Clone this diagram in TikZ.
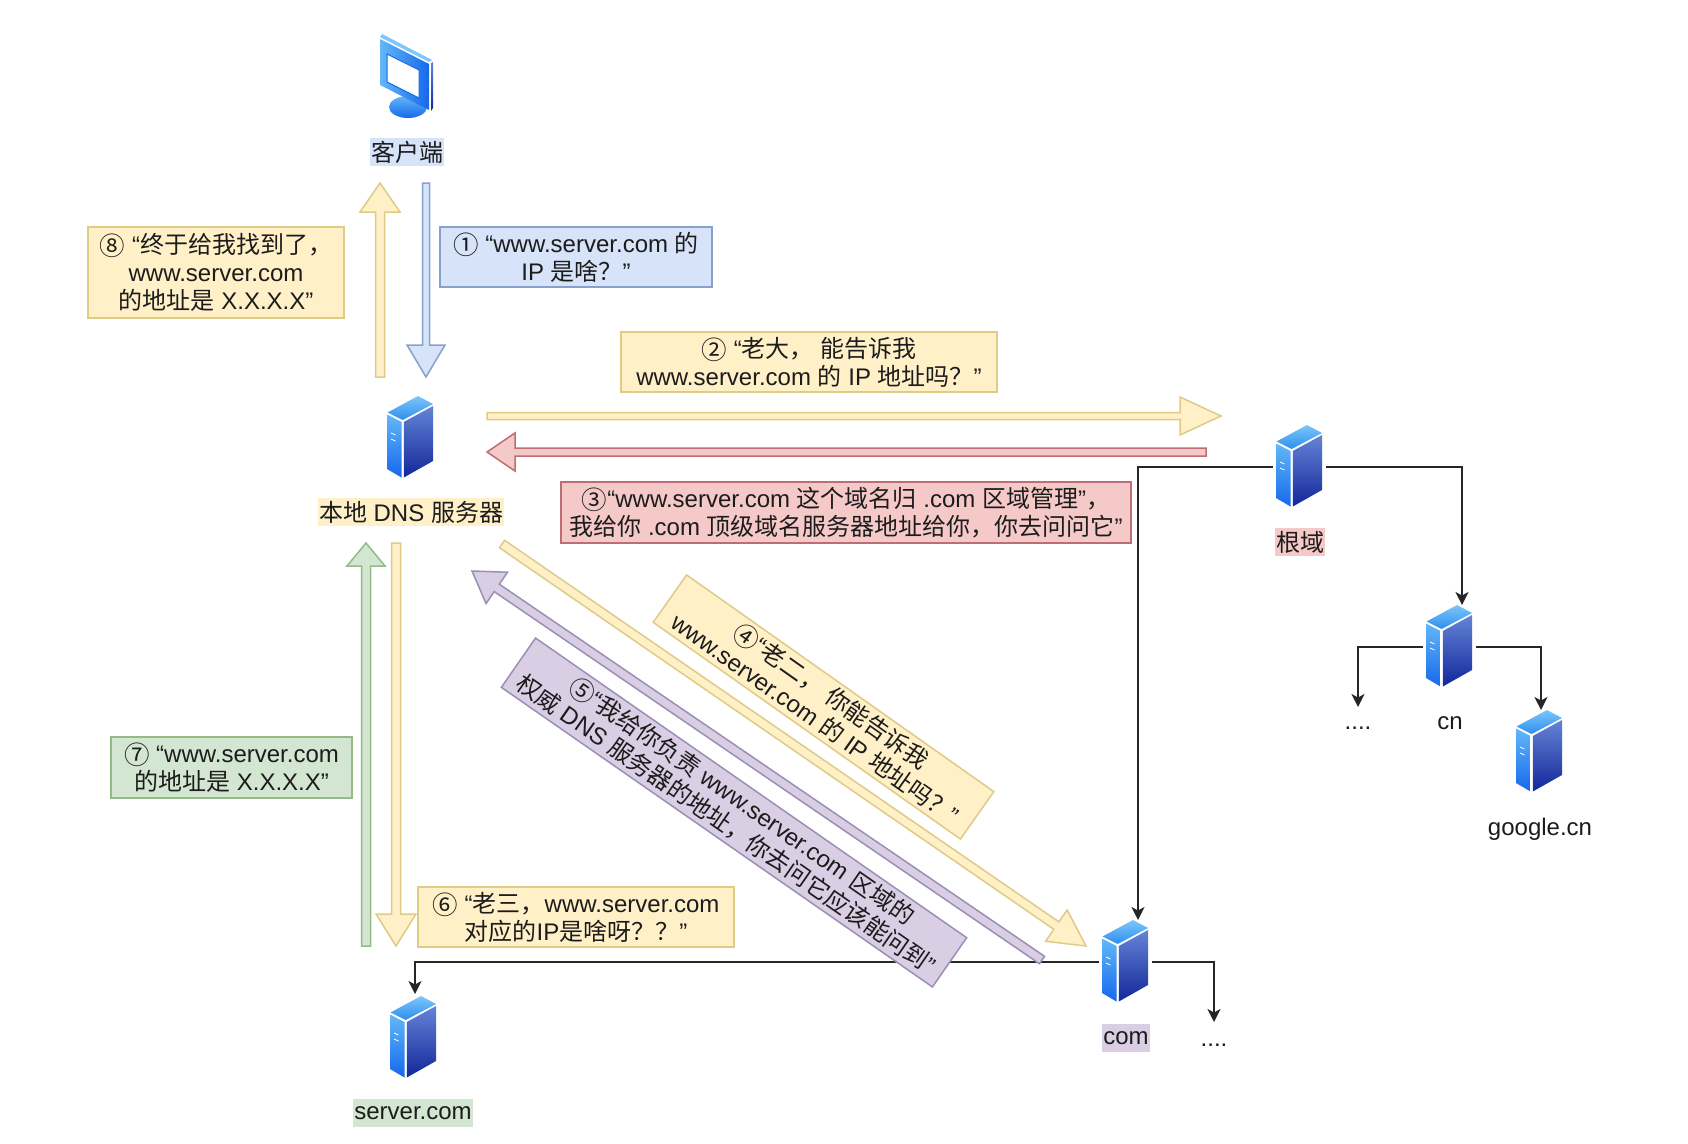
\documentclass[tikz,border=0pt]{standalone}
\usepackage{fontspec}
\setmainfont{Liberation Sans}
\newfontfamily\zhfont{Noto Sans CJK SC}
\newcommand{\z}[1]{{\zhfont #1}}
\newcommand{\cn}[1]{\raisebox{-2pt}{\zhfont\fontsize{25.5}{28}\selectfont #1}}
\usetikzlibrary{calc,arrows.meta}

\definecolor{ylwF}{HTML}{FFF0C8}\definecolor{ylwD}{HTML}{DFCB85}
\definecolor{bluF}{HTML}{D6E3F8}\definecolor{bluD}{HTML}{86A2CC}
\definecolor{redF}{HTML}{F6C9C9}\definecolor{redD}{HTML}{BC6E74}
\definecolor{grnF}{HTML}{D3E6D2}\definecolor{grnD}{HTML}{94BB86}
\definecolor{purF}{HTML}{D9CEE3}\definecolor{purD}{HTML}{9A8FB5}
\definecolor{inkT}{HTML}{1C1C1C}
\definecolor{HLa}{HTML}{7CC6FA}\definecolor{HLb}{HTML}{2E8FEE}
\definecolor{HLc}{HTML}{62B8F8}\definecolor{HLd}{HTML}{1668EC}
\definecolor{HLe}{HTML}{6484D6}\definecolor{HLf}{HTML}{13279A}

\tikzset{
  msg/.style={rectangle,draw,line width=1.5pt,inner sep=0pt,align=center,text=inkT,
    font=\fontsize{24}{28}\selectfont,execute at begin node={\rule{0pt}{25pt}}},
  yellowtone/.style={fill=ylwF,draw=ylwD},
  bluetone/.style={fill=bluF,draw=bluD},
  redtone/.style={fill=redF,draw=redD},
  greentone/.style={fill=grnF,draw=grnD},
  purpletone/.style={fill=purF,draw=purD},
  caption/.style={inner xsep=1pt,inner ysep=0pt,minimum height=28pt,text=inkT,
    font=\fontsize{24}{28}\selectfont},
  iconbox/.style={inner sep=0pt,minimum width=52pt,minimum height=84pt},
  block/.style={line width=1.5pt,line join=miter},
  link/.style={line width=1.5pt,draw=black!85,-{Stealth[length=13pt,width=13pt,inset=3.5pt]}},
  serverglyph/.pic={
    \shade[top color=HLa,bottom color=HLb] (0.5,16.5)--(31,0)--(46,8)--(15.7,24)--cycle;
    \shade[top color=HLc,bottom color=HLd] (0,18.5)--(14.5,26)--(14.5,81.5)--(0,73)--cycle;
    \shade[top color=HLe,bottom color=HLf] (16.8,26)--(46,10)--(46,65)--(16.8,81.5)--cycle;
    \draw[white,line width=0.8pt] (4,37)--(8.5,39) (4,43)--(8.5,45);
  },
  monitorglyph/.pic={
    \shade[top color=HLc,bottom color=HLd] (29,73) ellipse [x radius=19,y radius=11];
    \fill[HLa] (3,0)--(53,26)--(50,28)--(1,3)--cycle;
    \shade[left color=HLc,right color=HLd] (1,5)--(50,30)--(50,76)--(1,51)--cycle;
    \shade[top color=HLe,bottom color=HLf] (52,29)--(54,28)--(54,74)--(52,77)--cycle;
    \fill[white] (8,20)--(40,36)--(40,64)--(8,48)--cycle;
    \draw[HLd,line width=1pt] (8,20)--(40,36)--(40,64)--(8,48)--cycle;
  },
}

% hollow block arrow: tail, tip, head length, head half width, shaft half width, tone
\newcommand{\blockarrow}[6]{%
  \coordinate (ba) at ($(#2)!#3pt!(#1)$);
  \draw[block,#6] ($(#1)!#5pt!90:(#2)$) -- ($(ba)!#5pt!90:(#2)$) -- ($(ba)!#4pt!90:(#2)$)
    -- (#2) -- ($(ba)!#4pt!-90:(#2)$) -- ($(ba)!#5pt!-90:(#2)$) -- ($(#1)!#5pt!-90:(#2)$) -- cycle;
}
% server icon with its named box: name, left, top
\newcommand{\serverat}[3]{%
  \node[iconbox] (#1) at (#2+23.5,#3+42) {};
  \pic at (#2,#3) {serverglyph};
}

\begin{document}
\begin{tikzpicture}[x=1pt,y=-1pt]
\useasboundingbox (0,0) rectangle (1688,1143);
\fill[white] (0,0) rectangle (1688,1143);

% icons
\node[iconbox] (client) at (406,76) {};
\pic at (379,34) {monitorglyph};
\serverat{local}{387}{396}
\serverat{root}{1276}{425}
\serverat{cn}{1426}{605}
\serverat{google}{1516}{710}
\serverat{com}{1102}{920}
\serverat{srv}{390}{996}

% captions
\node[caption,fill=bluF] (lclient) at (407,152) {\z{客户端}};
\node[caption,fill=ylwF] (llocal) at (411,512) {\z{本地} DNS \z{服务器}};
\node[caption,fill=redF] (lroot) at (1300,542) {\z{根域}};
\node[caption] (lcn) at (1450,723) {cn};
\node[caption] (lgoogle) at (1540,829) {google.cn};
\node[caption,fill=purF] (lcom) at (1126,1038) {com};
\node[caption,fill=grnF] (lsrv) at (413,1113) {server.com};
\node[caption] (dotsa) at (1358,728) {....};
\node[caption] (dotsb) at (1214,1045) {....};

% delegation tree
\coordinate (comin) at (1138,920);
\coordinate (cnin) at (1462,605);
\coordinate (gin) at (1541,710);
\coordinate (dain) at (1358,707);
\coordinate (dbin) at (1214,1022);
\coordinate (srvin) at (415,994);
\draw[link] (root.west) -| (comin);
\draw[link] (root.east) -| (cnin);
\draw[link] (cn.west) -| (dain);
\draw[link] (cn.east) -| (gin);
\draw[link] (com.west) -| (srvin);
\draw[link] (com.east) -| (dbin);

% query and reply arrows
\coordinate (a8t) at (380,377); \coordinate (a8h) at (380,183);
\coordinate (a1t) at (426,183); \coordinate (a1h) at (426,377);
\coordinate (a2t) at (487,416); \coordinate (a2h) at (1221,416);
\coordinate (a3t) at (1206,452); \coordinate (a3h) at (487,452);
\coordinate (a7t) at (366,946); \coordinate (a7h) at (366,543);
\coordinate (a6t) at (396,543); \coordinate (a6h) at (396,946);
\coordinate (a4t) at (502,544); \coordinate (a4h) at (1086,946);
\coordinate (a5t) at (1042,960); \coordinate (a5h) at (472,571);
\blockarrow{a8t}{a8h}{29}{20}{4.5}{yellowtone}
\blockarrow{a1t}{a1h}{32}{19}{3.5}{bluetone}
\blockarrow{a2t}{a2h}{41}{19}{3.5}{yellowtone}
\blockarrow{a3t}{a3h}{28}{19}{4}{redtone}
\blockarrow{a7t}{a7h}{23}{19}{4.5}{greentone}
\blockarrow{a6t}{a6h}{32}{20}{4.5}{yellowtone}
\blockarrow{a4t}{a4h}{36}{19}{4.5}{yellowtone}
\blockarrow{a5t}{a5h}{30}{19}{4.5}{purpletone}

% message boxes
\node[msg,yellowtone,minimum width=256pt,minimum height=91pt] (m8) at (216,272.5)
  {\cn{⑧} “\z{终于给我找到了，}\\www.server.com\\\z{的地址是} X.X.X.X”};
\node[msg,bluetone,minimum width=272pt,minimum height=60pt] (m1) at (576,257)
  {\cn{①} “www.server.com \z{的}\\IP \z{是啥？}”};
\node[msg,yellowtone,minimum width=376pt,minimum height=60pt] (m2) at (809,362)
  {\cn{②} “\z{老大，} \z{能告诉我}\\www.server.com \z{的} IP \z{地址吗？}”};
\node[msg,redtone,minimum width=570pt,minimum height=61pt] (m3) at (846,512.5)
  {\cn{③}“www.server.com \z{这个域名归} .com \z{区域管理}”\z{，}\\\z{我给你} .com \z{顶级域名服务器地址给你，你去问问它}”};
\node[msg,greentone,minimum width=241pt,minimum height=61pt] (m7) at (231.5,767.5)
  {\cn{⑦} “www.server.com\\\z{的地址是} X.X.X.X”};
\node[msg,yellowtone,minimum width=316pt,minimum height=60pt] (m6) at (576,917)
  {\cn{⑥} “\z{老三，}www.server.com\\\z{对应的}IP\z{是啥呀？？}”};
\node[msg,yellowtone,minimum width=376pt,minimum height=58pt,rotate=-35.2] (m4) at (823.5,707)
  {\cn{④}“\z{老二，} \z{你能告诉我}\\www.server.com \z{的} IP \z{地址吗？}”};
\node[msg,purpletone,minimum width=525pt,minimum height=60pt,rotate=-34.8] (m5) at (734,812.5)
  {\cn{⑤}“\z{我给你负责} www.server.com \z{区域的}\\\z{权威} DNS \z{服务器的地址，你去问它应该能问到}”};
\end{tikzpicture}
\end{document}
